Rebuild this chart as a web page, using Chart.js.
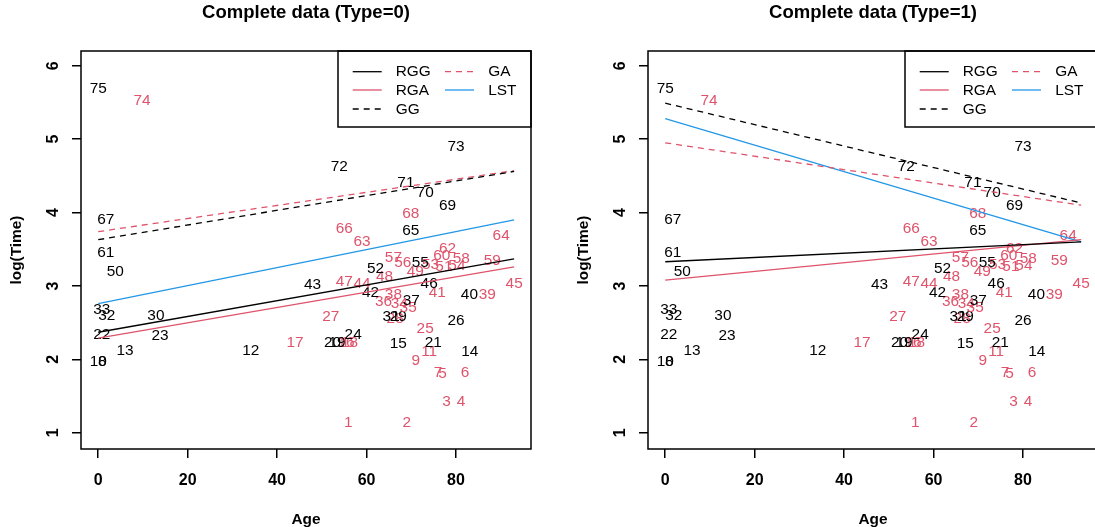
<!DOCTYPE html>
<html>
<head>
<meta charset="utf-8">
<script src="https://cdn.jsdelivr.net/npm/chart.js@4.4.1/dist/chart.umd.min.js"></script>
<style>
  html, body { margin: 0; padding: 0; background: #fff; overflow: hidden; width: 1095px; height: 527px; }
  #wrap { position: relative; width: 1134px; height: 527px; }
  canvas { position: absolute; top: 0; }
  #panel0 { left: 0; }
  #panel1 { left: 567px; }
</style>
</head>
<body>
<div id="wrap">
  <canvas id="panel0" width="567" height="527"></canvas>
  <canvas id="panel1" width="567" height="527"></canvas>
</div>
<script>
/* ============================================================
   Data (point n is label n, 1..75)
   ============================================================ */
var ages = [55.9, 69.0, 77.9, 81.1, 77.0, 82.0, 76.0, 0.9, 71.0, 0.0,
            74.0, 34.1, 6.0, 83.1, 67.1, 55.4, 44.0, 56.2, 53.4, 52.4,
            74.9, 0.8, 13.8, 57.0, 73.1, 80.0, 52.0, 66.4, 67.1, 12.9,
            65.5, 1.9, 0.8, 67.3, 69.3, 63.8, 70.0, 66.0, 87.0, 83.0,
            75.8, 60.9, 47.9, 59.0, 93.0, 74.0, 55.0, 64.0, 70.9, 3.8,
            77.3, 62.0, 74.3, 80.2, 72.0, 68.1, 66.0, 81.2, 88.1, 76.8,
            1.7, 78.1, 59.0, 90.1, 69.9, 55.0, 1.7, 69.9, 78.1, 73.1,
            68.8, 53.9, 80.0, 9.8, 0.0];

var logTime = [1.14, 1.14, 1.43, 1.43, 1.81, 1.82, 1.82, 1.97, 1.98, 1.97,
               2.11, 2.12, 2.12, 2.11, 2.22, 2.23, 2.23, 2.23, 2.23, 2.23,
               2.23, 2.33, 2.32, 2.33, 2.42, 2.52, 2.58, 2.55, 2.58, 2.60,
               2.58, 2.59, 2.67, 2.76, 2.71, 2.79, 2.80, 2.88, 2.88, 2.88,
               2.91, 2.91, 3.02, 3.03, 3.03, 3.03, 3.06, 3.13, 3.20, 3.19,
               3.26, 3.24, 3.29, 3.27, 3.31, 3.31, 3.38, 3.37, 3.34, 3.41,
               3.45, 3.51, 3.60, 3.69, 3.75, 3.78, 3.90, 3.98, 4.09, 4.27,
               4.40, 4.63, 4.89, 5.52, 5.69];

/* 1 = drawn in red, 0 = drawn in black */
var pointGroup = [1, 1, 1, 1, 1, 1, 1, 0, 1, 0,
                  1, 0, 0, 0, 0, 1, 1, 1, 0, 0,
                  0, 0, 0, 0, 1, 0, 1, 1, 0, 0,
                  0, 0, 0, 1, 1, 1, 0, 1, 1, 0,
                  1, 0, 0, 1, 1, 0, 1, 1, 1, 0,
                  1, 0, 1, 1, 0, 1, 1, 1, 1, 1,
                  0, 1, 1, 1, 0, 1, 0, 1, 0, 0,
                  0, 0, 0, 1, 0];

/* fitted lines: value at the first and last age */
var lineAge = [0, 93];
var rgg0 = [2.37, 3.37];
var rga0 = [2.29, 3.26];
var gg0  = [3.63, 4.56];
var ga0  = [3.74, 4.57];
var lst0 = [2.76, 3.90];

var rgg1 = [3.33, 3.60];
var rga1 = [3.08, 3.63];
var gg1  = [5.49, 4.13];
var ga1  = [4.95, 4.10];
var lst1 = [5.28, 3.60];

var seriesNames = ['RGG', 'RGA', 'GG', 'GA', 'LST'];
var xTicks = [0, 20, 40, 60, 80];
var yTicks = [1, 2, 3, 4, 5, 6];
var titles = ['Complete data (Type=0)', 'Complete data (Type=1)'];

/* ============================================================
   Styles
   ============================================================ */
var BLACK = '#000000';
var RED = '#DF536B';
var BLUE = '#2297E6';
var FONT = "'Liberation Sans', Arial, Helvetica, sans-serif";
var TXT = 15.4;
var TICK_TXT = 16;
var DASH = [6, 5];

var seriesStyle = [
  { color: BLACK, dash: [] },
  { color: RED, dash: [] },
  { color: BLACK, dash: DASH },
  { color: RED, dash: DASH },
  { color: BLUE, dash: [] }
];

function pairs(xs, ys) {
  var out = [];
  for (var i = 0; i < xs.length; i++) { out.push({ x: xs[i], y: ys[i] }); }
  return out;
}

/* numbers written at every point, drawn under the lines */
var numberLabels = {
  id: 'numberLabels',
  beforeDatasetsDraw: function (chart) {
    var ctx = chart.ctx;
    var meta = chart.getDatasetMeta(0);
    ctx.save();
    ctx.font = TXT + 'px ' + FONT;
    ctx.textAlign = 'center';
    ctx.textBaseline = 'middle';
    for (var i = 0; i < meta.data.length; i++) {
      var el = meta.data[i];
      ctx.fillStyle = pointGroup[i] === 1 ? RED : BLACK;
      ctx.fillText(String(i + 1), el.x, el.y);
    }
    ctx.restore();
  }
};

/* frame round the plot and the boxed legend in the top right */
var frameAndLegend = {
  id: 'frameAndLegend',
  afterDraw: function (chart) {
    var ctx = chart.ctx;
    var a = chart.chartArea;
    ctx.save();
    ctx.strokeStyle = BLACK;
    ctx.lineWidth = 1.5;
    ctx.strokeRect(a.left, a.top, a.right - a.left, a.bottom - a.top);

    var w = 193, h = 76;
    var left = a.right - w, top = a.top;
    ctx.strokeRect(left, top, w, h);

    var rows = [20.7, 39, 58];
    var cols = [{ x1: 14.7, x2: 43.7, tx: 57.7 }, { x1: 107, x2: 136, tx: 150.3 }];
    ctx.font = TXT + 'px ' + FONT;
    ctx.textAlign = 'left';
    ctx.textBaseline = 'middle';
    for (var i = 0; i < seriesNames.length; i++) {
      var c = cols[Math.floor(i / 3)];
      var y = top + rows[i % 3];
      ctx.beginPath();
      ctx.lineWidth = 1.3;
      ctx.strokeStyle = seriesStyle[i].color;
      ctx.setLineDash(seriesStyle[i].dash);
      ctx.moveTo(left + c.x1, y);
      ctx.lineTo(left + c.x2, y);
      ctx.stroke();
      ctx.setLineDash([]);
      ctx.fillStyle = BLACK;
      ctx.fillText(seriesNames[i], left + c.tx, y + 0.5);
    }
    ctx.restore();
  }
};

function makePanel(canvasId, title, fits) {
  var datasets = [{
    data: pairs(ages, logTime),
    pointRadius: 0,
    showLine: false
  }];
  for (var i = 0; i < fits.length; i++) {
    datasets.push({
      data: pairs(lineAge, fits[i]),
      showLine: true,
      pointRadius: 0,
      borderColor: seriesStyle[i].color,
      borderDash: seriesStyle[i].dash,
      borderWidth: 1.3,
      fill: false
    });
  }

  return new Chart(document.getElementById(canvasId), {
    type: 'scatter',
    data: { datasets: datasets },
    options: {
      responsive: false,
      animation: false,
      layout: { padding: { left: 0, right: 36, top: 0, bottom: 0 } },
      plugins: {
        legend: { display: false },
        tooltip: { enabled: false },
        title: {
          display: true,
          text: title,
          fullSize: false,
          color: BLACK,
          font: { family: FONT, size: 18.5, weight: 'bold', lineHeight: 1 },
          padding: { top: 3.5, bottom: 29 }
        }
      },
      scales: {
        x: {
          type: 'linear',
          min: -3.85,
          max: 96.77,
          afterBuildTicks: function (s) { s.ticks = xTicks.map(function (v) { return { value: v }; }); },
          afterFit: function (s) { s.height = 78; },
          grid: { display: true, drawOnChartArea: false, drawTicks: true, tickLength: 9, color: BLACK, lineWidth: 1.5 },
          border: { display: false },
          ticks: {
            color: BLACK, padding: 13, maxRotation: 0,
            font: { family: FONT, size: TICK_TXT, weight: 'bold' }
          },
          title: {
            display: true, text: 'Age', color: BLACK,
            font: { family: FONT, size: TXT, weight: 'bold', lineHeight: 1 },
            padding: { top: 0, bottom: 0 }
          }
        },
        y: {
          type: 'linear',
          min: 0.78,
          max: 6.2,
          afterBuildTicks: function (s) { s.ticks = yTicks.map(function (v) { return { value: v }; }); },
          afterFit: function (s) { s.width = 81; },
          grid: { display: true, drawOnChartArea: false, drawTicks: true, tickLength: 9, color: BLACK, lineWidth: 1.5 },
          border: { display: false },
          ticks: {
            color: BLACK, padding: 14, minRotation: 90, maxRotation: 90, crossAlign: 'center',
            font: { family: FONT, size: TICK_TXT, weight: 'bold' }
          },
          title: {
            display: true, text: 'log(Time)', color: BLACK,
            font: { family: FONT, size: TXT, weight: 'bold', lineHeight: 1 },
            padding: { top: 9.3, bottom: 0 }
          }
        }
      }
    },
    plugins: [numberLabels, frameAndLegend]
  });
}

makePanel('panel0', titles[0], [rgg0, rga0, gg0, ga0, lst0]);
makePanel('panel1', titles[1], [rgg1, rga1, gg1, ga1, lst1]);
</script>
</body>
</html>
